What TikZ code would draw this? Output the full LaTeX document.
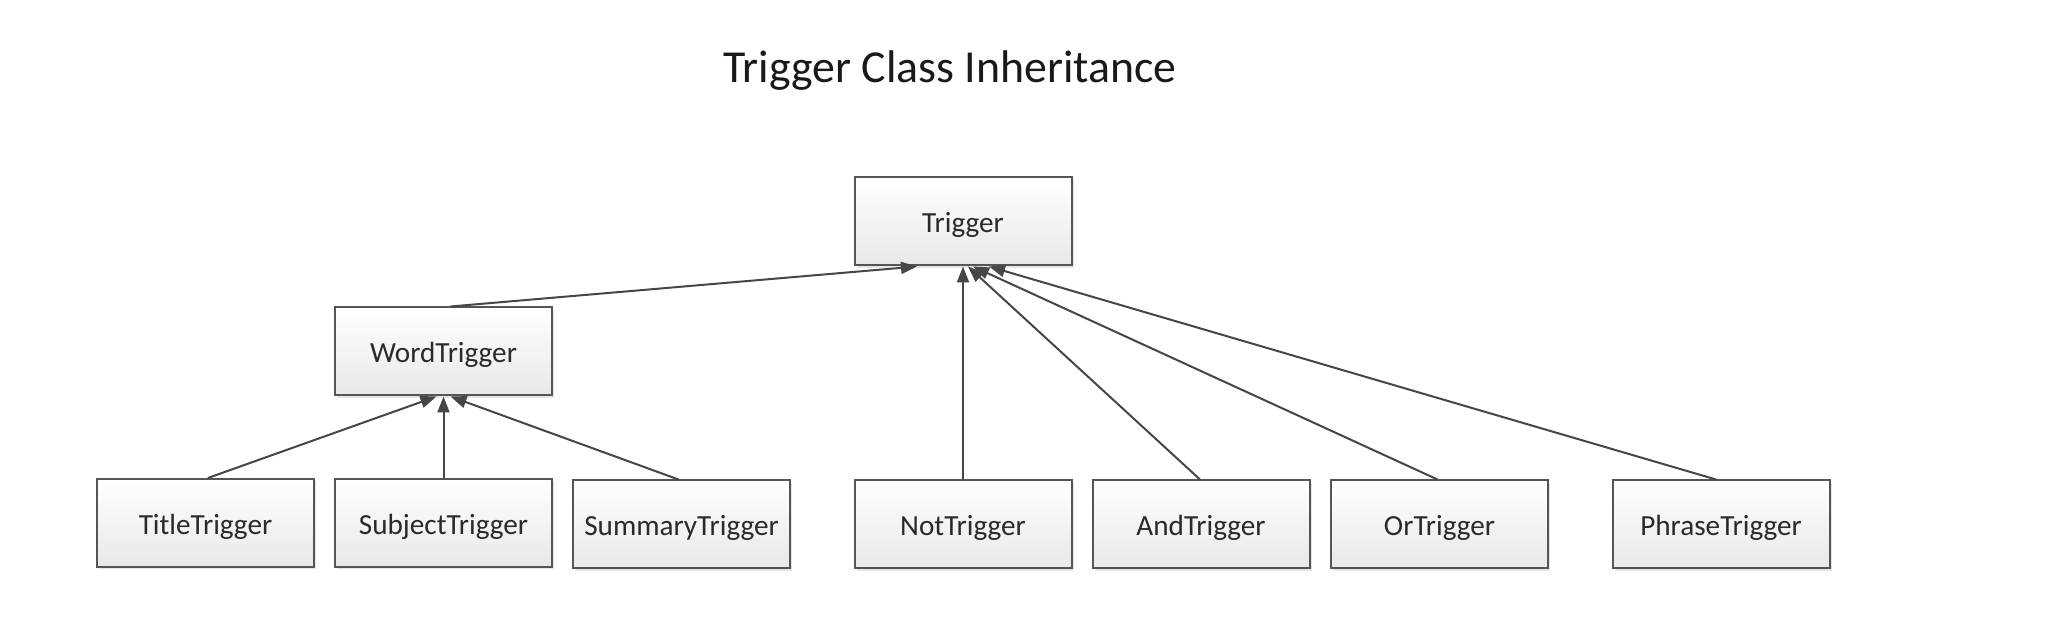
\documentclass[tikz,border=0pt]{standalone}
\usepackage{fontspec}
\setmainfont{Carlito}
\usetikzlibrary{arrows.meta,shadows}
\definecolor{edgegray}{HTML}{555555}
\definecolor{linegray}{HTML}{464646}
\definecolor{textgray}{HTML}{2A2A2A}
\tikzset{
  classbox/.style={draw=edgegray, line width=1pt, rectangle,
    minimum width=108.5pt, minimum height=44pt, inner sep=0pt,
    top color=white, bottom color=black!9,
    font=\fontsize{14.6}{17}\selectfont, text=textgray,
    text height=14pt, text depth=2.9pt,
    drop shadow={shadow xshift=1.2pt, shadow yshift=-1.2pt, opacity=0.25, fill=black!40}},
  inherit/.style={draw=linegray, line width=1pt,
    -{Triangle[length=8pt,width=6pt]}, fill=linegray}
}
\begin{document}
\begin{tikzpicture}[x=0.5pt,y=-0.5pt]
\useasboundingbox (0,0) rectangle (2053,641);
\fill[white] (0,0) rectangle (2053,641);
\node[anchor=base, font=\fontsize{22.9}{26}\selectfont, text=black!90] (title) at (950,83) {Trigger Class Inheritance};

\node[classbox] (trig) at (963,221.5) {Trigger};
\node[classbox] (word) at (443.5,351.5) {WordTrigger};

\node[classbox] (titlet) at (205.5,523) {TitleTrigger};
\node[classbox] (subj) at (443.5,523) {SubjectTrigger};
\node[classbox] (summ) at (681.5,524.5) {SummaryTrigger};
\node[classbox] (nott) at (963,524.5) {NotTrigger};
\node[classbox] (andt) at (1201,524.5) {AndTrigger};
\node[classbox] (ort) at (1439.5,524.5) {OrTrigger};
\node[classbox] (phrase) at (1721,524.5) {PhraseTrigger};

\draw[inherit] ([xshift=1.2pt]titlet.north) -- ([xshift=-3.5pt]word.south);
\draw[inherit] (subj.north) -- (word.south);
\draw[inherit] ([xshift=-1.5pt]summ.north) -- ([xshift=3.5pt]word.south);

\draw[inherit] ([xshift=3.5pt]word.north) -- ([xshift=-23pt]trig.south);
\draw[inherit] (nott.north) -- (trig.south);
\draw[inherit] ([xshift=-0.5pt]andt.north) -- ([xshift=2.5pt]trig.south);
\draw[inherit] ([xshift=-1pt]ort.north) -- ([xshift=5pt]trig.south);
\draw[inherit] ([xshift=-2.5pt]phrase.north) -- ([xshift=13pt]trig.south);
\end{tikzpicture}
\end{document}
